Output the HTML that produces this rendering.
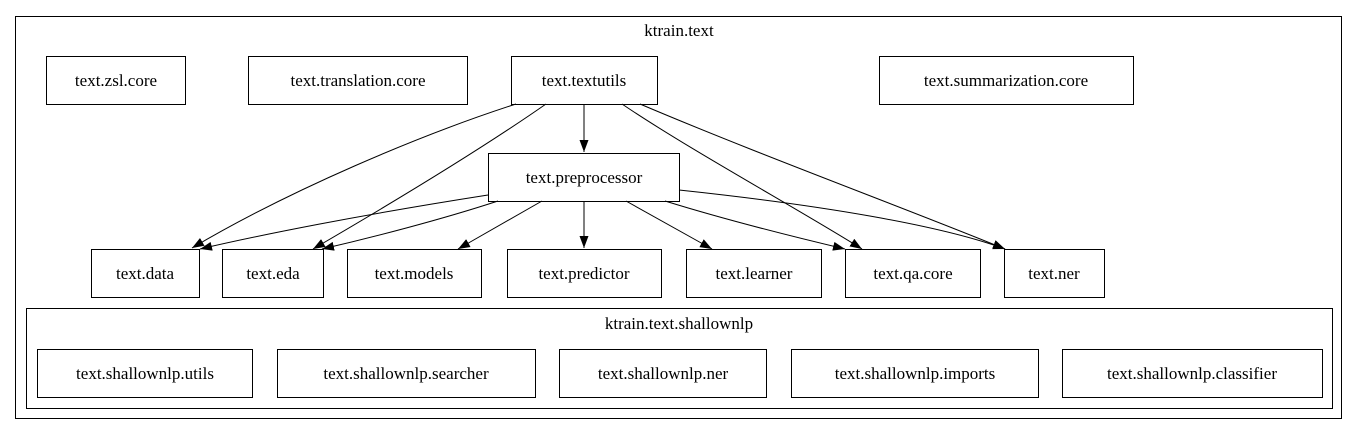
<!DOCTYPE html>
<html><head><meta charset="utf-8"><style>
html,body{margin:0;padding:0;background:#fff;}
svg{display:block;}
svg text{font-family:'Liberation Serif','DejaVu Serif',Times,serif !important;font-size:17px;fill:#000;}
</style></head><body>
<svg width="1359" height="435" viewBox="0 0 1359 435" xmlns="http://www.w3.org/2000/svg">
<defs><marker id="a" viewBox="0 0 12 10" refX="12" refY="5" markerWidth="12" markerHeight="10" markerUnits="userSpaceOnUse" orient="auto"><path d="M0,0.5 L12,5 L0,9.5 z" fill="#000"/></marker></defs>
<g fill="none" stroke="#000" stroke-width="1">
<rect x="15.5" y="16.5" width="1326" height="402"/>
<rect x="26.5" y="308.5" width="1306" height="100"/>
<rect x="46.5" y="56.5" width="139" height="48"/>
<rect x="248.5" y="56.5" width="219" height="48"/>
<rect x="511.5" y="56.5" width="146" height="48"/>
<rect x="879.5" y="56.5" width="254" height="48"/>
<rect x="488.5" y="153.5" width="191" height="48"/>
<rect x="91.5" y="249.5" width="108" height="48"/>
<rect x="222.5" y="249.5" width="101" height="48"/>
<rect x="347.5" y="249.5" width="134" height="48"/>
<rect x="507.5" y="249.5" width="154" height="48"/>
<rect x="686.5" y="249.5" width="135" height="48"/>
<rect x="845.5" y="249.5" width="135" height="48"/>
<rect x="1004.5" y="249.5" width="100" height="48"/>
<rect x="37.5" y="349.5" width="215" height="48"/>
<rect x="277.5" y="349.5" width="258" height="48"/>
<rect x="559.5" y="349.5" width="207" height="48"/>
<rect x="791.5" y="349.5" width="247" height="48"/>
<rect x="1062.5" y="349.5" width="260" height="48"/>
<g marker-end="url(#a)">
<path d="M584,104 L584,152"/>
<path d="M516,104 C420,135 290,190 192,248"/>
<path d="M546,104 C480,150 380,210 313,249"/>
<path d="M622,104 C690,150 800,210 862,249"/>
<path d="M640,104 C760,155 910,210 1005,249"/>
<path d="M488,195 C360,215 260,235 200,249"/>
<path d="M498,201 C440,220 370,238 322,249"/>
<path d="M542,201 L458,249"/>
<path d="M584,201 L584,248"/>
<path d="M626,201 L712,249"/>
<path d="M665,201 C720,218 790,236 845,249"/>
<path d="M679,190 C820,205 940,225 1005,249"/>
</g>
</g>
<g text-anchor="middle" font-family="Liberation Serif, DejaVu Serif, serif" font-size="17">
<text x="679" y="36">ktrain.text</text>
<text x="679" y="329">ktrain.text.shallownlp</text>
<text x="116" y="86">text.zsl.core</text>
<text x="358" y="86">text.translation.core</text>
<text x="584" y="86">text.textutils</text>
<text x="1006" y="86">text.summarization.core</text>
<text x="584" y="183">text.preprocessor</text>
<text x="145" y="279">text.data</text>
<text x="273" y="279">text.eda</text>
<text x="414" y="279">text.models</text>
<text x="584" y="279">text.predictor</text>
<text x="754" y="279">text.learner</text>
<text x="913" y="279">text.qa.core</text>
<text x="1054" y="279">text.ner</text>
<text x="145" y="379">text.shallownlp.utils</text>
<text x="406" y="379">text.shallownlp.searcher</text>
<text x="663" y="379">text.shallownlp.ner</text>
<text x="915" y="379">text.shallownlp.imports</text>
<text x="1192" y="379">text.shallownlp.classifier</text>
</g>
</svg>
</body></html>
